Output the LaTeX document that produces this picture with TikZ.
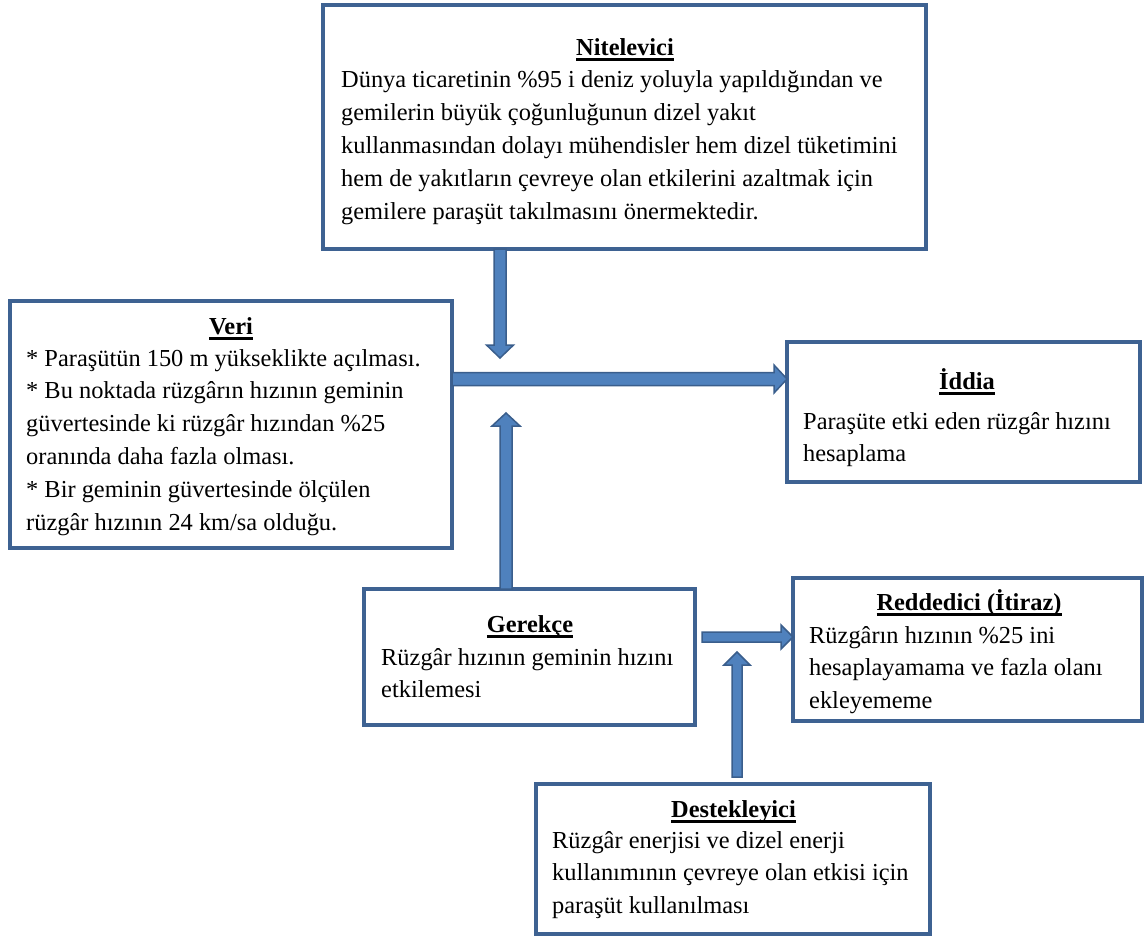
\documentclass[tikz,border=0pt]{standalone}
\usepackage{fontspec}
\setmainfont{Liberation Serif}
\usetikzlibrary{calc}

\definecolor{boxline}{RGB}{62,98,146}
\definecolor{arrowfill}{RGB}{79,129,189}
\definecolor{arrowline}{RGB}{58,94,140}

\tikzset{
  box/.style={rectangle, draw=boxline, line width=4pt, fill=white,
    inner sep=0pt, outer sep=0pt, anchor=north west},
  heading/.style={font=\fontsize{24.4}{29}\selectfont\bfseries,
    inner sep=0pt, anchor=base},
  body/.style={font=\fontsize{24.4}{33}\selectfont, inner sep=0pt,
    anchor=base west},
  barrow/.style={fill=arrowfill, draw=arrowline, line width=1.5pt,
    line join=miter},
}

% bold heading with a heavy underline
\newcommand\headline[1]{\setbox0\hbox{#1}\rlap{\rule[-5.5pt]{\wd0}{2.8pt}}\box0}
% left-aligned lines whose first baseline is the node's base
\newcommand\lines[2]{\vtop{\hsize=600pt\parindent=0pt\raggedright
  \baselineskip=#1\relax #2\par}}

% block arrow: start, tip, half shaft width, half head width, head length
\newcommand\blockarrow[5]{%
  \coordinate (bah) at ($(#2)!#5!(#1)$);
  \filldraw[barrow]
    ($(#1)!#3!90:(#2)$) -- ($(bah)!#3!-90:(#1)$) -- ($(bah)!#4!-90:(#1)$)
    -- (#2) -- ($(bah)!#4!90:(#1)$) -- ($(bah)!#3!90:(#1)$)
    -- ($(#1)!#3!-90:(#2)$) -- cycle;
}

\begin{document}
\begin{tikzpicture}[x=1pt, y=-1pt]
\useasboundingbox[fill=white] (0,0) rectangle (1145,940);

% ---- boxes ----
\node[box, minimum width=603pt, minimum height=244pt] (nit) at (323,5) {};
\node[box, minimum width=442pt, minimum height=247pt] (veri) at (10,301) {};
\node[box, minimum width=353pt, minimum height=140pt] (iddia) at (787,342) {};
\node[box, minimum width=331pt, minimum height=136pt] (gerekce) at (364,589) {};
\node[box, minimum width=349pt, minimum height=143pt] (redd) at (793,578) {};
\node[box, minimum width=394pt, minimum height=150pt] (destek) at (536,784) {};

% ---- texts ----
\node[heading] (nitT) at (625,55) {\headline{Nitelevici}};
\node[body] (nitB) at (341,87) {\lines{33pt}{%
  Dünya ticaretinin \%95 i deniz yoluyla yapıldığından ve\\
  gemilerin büyük çoğunluğunun dizel yakıt\\
  kullanmasından dolayı mühendisler hem dizel tüketimini\\
  hem de yakıtların çevreye olan etkilerini azaltmak için\\
  gemilere paraşüt takılmasını önermektedir.}};

\node[heading] (veriT) at (231,334) {\headline{Veri}};
\node[body] (veriB) at (26,366) {\lines{32.8pt}{%
  * Paraşütün 150 m yükseklikte açılması.\\{}
  * Bu noktada rüzgârın hızının geminin\\
  güvertesinde ki rüzgâr hızından \%25\\
  oranında daha fazla olması.\\{}
  * Bir geminin güvertesinde ölçülen\\
  rüzgâr hızının 24 km/sa olduğu.}};

\node[heading] (iddiaT) at (967,389) {\headline{İddia}};
\node[body] (iddiaB) at (803,429) {\lines{32pt}{%
  Paraşüte etki eden rüzgâr hızını\\
  hesaplama}};

\node[heading] (gerekceT) at (530,632) {\headline{Gerekçe}};
\node[body] (gerekceB) at (381,665) {\lines{32.5pt}{%
  Rüzgâr hızının geminin hızını\\
  etkilemesi}};

\node[heading] (reddT) at (969,610) {\headline{Reddedici (İtiraz)}};
\node[body] (reddB) at (809,643) {\lines{32.5pt}{%
  Rüzgârın hızının \%25 ini\\
  hesaplayamama ve fazla olanı\\
  ekleyememe}};

\node[heading] (destekT) at (733.5,817) {\headline{Destekleyici}};
\node[body] (destekB) at (552,848) {\lines{32.5pt}{%
  Rüzgâr enerjisi ve dizel enerji\\
  kullanımının çevreye olan etkisi için\\
  paraşüt kullanılması}};

% ---- connectors ----
\coordinate (claimrow) at (0,379);
\coordinate (nitTip) at (500,358);
\coordinate (gerTip) at (506,413);
\coordinate (reddrow) at (0,637);
\coordinate (desTip) at (737,652);

\coordinate (nitOut) at (nit.south -| nitTip);
\coordinate (veriOut) at (veri.east |- claimrow);
\coordinate (iddiaIn) at (iddia.west |- claimrow);
\coordinate (gerOut) at (gerekce.north -| gerTip);
\coordinate (gerSide) at ($(gerekce.east |- reddrow)+(7,0)$);
\coordinate (reddIn) at (redd.west |- reddrow);
\coordinate (desOut) at ($(destek.north -| desTip)+(0,-7)$);

\blockarrow{nitOut}{nitTip}{6pt}{13.5pt}{13pt}
\blockarrow{veriOut}{iddiaIn}{6.5pt}{14pt}{13pt}
\blockarrow{gerOut}{gerTip}{6pt}{14pt}{13pt}
\blockarrow{gerSide}{reddIn}{5pt}{12pt}{12pt}
\blockarrow{desOut}{desTip}{5pt}{13pt}{13pt}
\end{tikzpicture}
\end{document}
